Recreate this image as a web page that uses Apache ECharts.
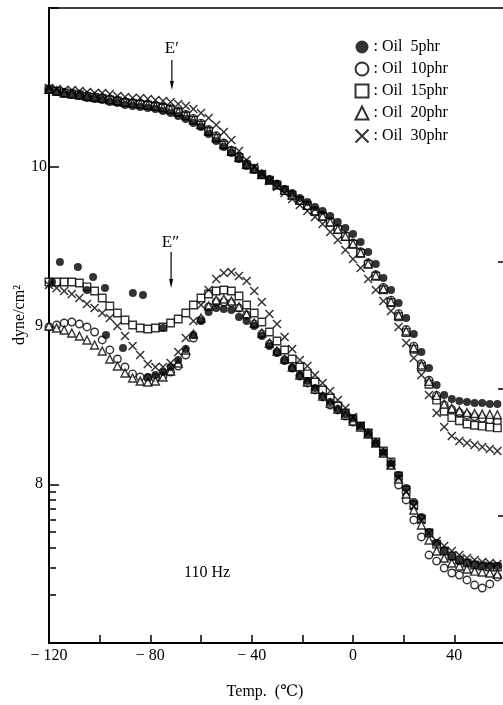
<!DOCTYPE html>
<html><head><meta charset="utf-8">
<script src="https://cdn.jsdelivr.net/npm/echarts@6/dist/echarts.min.js"></script>
<style>html,body{margin:0;padding:0;background:#fff;overflow:hidden}#c{width:508px;height:705px}</style>
</head><body><div id="c"></div>
<script>
// Temperatures (°C) at which values were read
const temps = [-120,-117,-114,-111,-108,-105,-102,-99,-96,-93,-90,-87,-84,-81,-78,-75,-72,-69,-66,-63,-60,-57,-54,-51,-48,-45,-42,-39,-36,-33,-30,-27,-24,-21,-18,-15,-12,-9,-6,-3,0,3,6,9,12,15,18,21,24,27,30,33,36,39,42,45,48,51,54,57];

// log10 of E' (dyne/cm2)
const storage5  = [10.483,10.471,10.458,10.452,10.446,10.433,10.427,10.420,10.408,10.402,10.389,10.383,10.376,10.370,10.364,10.351,10.339,10.320,10.301,10.276,10.250,10.206,10.162,10.124,10.087,10.049,10.005,9.980,9.948,9.917,9.891,9.860,9.835,9.803,9.778,9.746,9.721,9.690,9.652,9.614,9.576,9.526,9.463,9.387,9.299,9.224,9.142,9.047,8.946,8.833,8.732,8.625,8.562,8.537,8.524,8.518,8.512,8.512,8.506,8.506];
const storage10 = [10.490,10.478,10.468,10.462,10.455,10.446,10.440,10.434,10.425,10.418,10.410,10.404,10.398,10.392,10.385,10.376,10.365,10.350,10.330,10.305,10.275,10.235,10.195,10.150,10.105,10.065,10.020,9.990,9.955,9.920,9.890,9.855,9.825,9.790,9.760,9.725,9.695,9.655,9.610,9.565,9.520,9.465,9.395,9.320,9.240,9.160,9.075,8.975,8.870,8.760,8.655,8.560,8.500,8.470,8.450,8.435,8.425,8.415,8.405,8.395];
const storage15 = [10.486,10.475,10.465,10.458,10.452,10.443,10.437,10.430,10.421,10.414,10.405,10.399,10.393,10.387,10.380,10.370,10.358,10.342,10.320,10.292,10.262,10.222,10.180,10.137,10.095,10.057,10.012,9.985,9.950,9.915,9.885,9.852,9.820,9.787,9.755,9.720,9.688,9.650,9.605,9.560,9.512,9.455,9.385,9.310,9.225,9.145,9.055,8.955,8.850,8.740,8.630,8.530,8.460,8.420,8.400,8.380,8.372,8.366,8.360,8.355];
const storage20 = [10.489,10.477,10.466,10.460,10.453,10.445,10.438,10.432,10.423,10.416,10.408,10.401,10.395,10.389,10.382,10.373,10.362,10.346,10.325,10.298,10.268,10.228,10.188,10.143,10.100,10.060,10.016,9.988,9.952,9.918,9.887,9.853,9.822,9.788,9.757,9.722,9.690,9.652,9.607,9.562,9.515,9.458,9.390,9.315,9.232,9.150,9.065,8.965,8.860,8.752,8.648,8.560,8.505,8.478,8.462,8.452,8.446,8.442,8.440,8.438];
const storage30 = [10.496,10.490,10.483,10.483,10.477,10.471,10.465,10.465,10.458,10.446,10.439,10.433,10.433,10.427,10.420,10.414,10.408,10.395,10.383,10.364,10.339,10.307,10.263,10.219,10.169,10.099,10.043,9.998,9.954,9.910,9.872,9.835,9.797,9.759,9.721,9.683,9.639,9.589,9.539,9.476,9.419,9.362,9.293,9.224,9.154,9.091,8.991,8.890,8.795,8.688,8.562,8.449,8.361,8.304,8.272,8.260,8.247,8.235,8.222,8.209];

// log10 of E'' (dyne/cm2)
const loss5  = [null,null,null,null,null,null,null,null,null,null,null,null,null,8.676,8.688,8.707,8.739,8.783,8.852,8.940,9.028,9.085,9.110,9.104,9.098,9.054,9.028,8.997,8.934,8.871,8.827,8.776,8.732,8.688,8.650,8.606,8.556,8.518,8.474,8.442,8.417,8.367,8.317,8.260,8.203,8.134,8.058,7.976,7.888,7.794,7.699,7.630,7.580,7.542,7.516,7.504,7.491,7.485,7.485,7.485];
const loss5Scatter = [[-118.8,9.274],[-115.7,9.400],[-108.6,9.369],[-105.0,9.224],[-102.6,9.306],[-97.9,9.236],[-97.5,8.940],[-90.8,8.858],[-86.9,9.205],[-82.9,9.192],[-75.0,8.984]];
const loss10 = [8.991,9.003,9.016,9.022,9.009,8.991,8.959,8.909,8.846,8.789,8.739,8.695,8.676,8.669,8.669,8.682,8.707,8.745,8.814,8.921,9.035,9.117,9.148,9.148,9.142,9.110,9.066,9.009,8.946,8.883,8.833,8.783,8.732,8.682,8.638,8.594,8.550,8.499,8.468,8.430,8.392,8.361,8.323,8.260,8.197,8.121,7.995,7.901,7.775,7.668,7.554,7.516,7.472,7.441,7.428,7.397,7.365,7.346,7.372,7.416];
const loss15 = [9.274,9.274,9.274,9.274,9.268,9.243,9.217,9.173,9.123,9.079,9.035,9.003,8.984,8.978,8.984,8.991,9.016,9.041,9.079,9.129,9.173,9.198,9.217,9.224,9.217,9.186,9.129,9.079,9.022,8.959,8.902,8.846,8.789,8.739,8.695,8.644,8.594,8.543,8.493,8.449,8.411,8.367,8.323,8.266,8.209,8.140,8.052,7.964,7.869,7.781,7.693,7.623,7.580,7.548,7.523,7.504,7.491,7.485,7.479,7.479];
const loss20 = [8.997,8.984,8.972,8.953,8.934,8.909,8.877,8.839,8.789,8.745,8.701,8.669,8.650,8.644,8.650,8.676,8.713,8.764,8.846,8.946,9.047,9.123,9.161,9.167,9.154,9.117,9.072,9.016,8.953,8.890,8.839,8.789,8.739,8.688,8.644,8.600,8.556,8.512,8.474,8.436,8.398,8.361,8.317,8.260,8.197,8.121,8.033,7.939,7.838,7.743,7.649,7.580,7.535,7.504,7.485,7.466,7.453,7.447,7.441,7.435];
const loss30 = [9.255,9.236,9.217,9.198,9.173,9.135,9.110,9.079,9.047,8.997,8.934,8.871,8.814,8.758,8.739,8.739,8.764,8.833,8.921,9.028,9.129,9.224,9.293,9.331,9.337,9.312,9.280,9.217,9.148,9.072,9.009,8.927,8.852,8.783,8.745,8.688,8.638,8.587,8.531,8.480,8.424,8.367,8.323,8.260,8.197,8.121,8.039,7.951,7.863,7.775,7.693,7.643,7.611,7.580,7.554,7.535,7.523,7.510,7.504,7.498];

const seriesNames = ['Oil 5phr','Oil 10phr','Oil 15phr','Oil 20phr','Oil 30phr'];
const xTickLabels = [-120,-80,-40,0,40];
const yTickLabels = [8,9,10];

const FONT = '"Liberation Serif","DejaVu Serif",serif';
const open = {color:'#fff', borderColor:'#000', borderWidth:1.4};
const styles = {
  'Oil 5phr':  {symbol:'circle', symbolSize:8, itemStyle:{color:'#000'}},
  'Oil 10phr': {symbol:'circle', symbolSize:7.5, itemStyle:open},
  'Oil 15phr': {symbol:'rect', symbolSize:7.5, itemStyle:open},
  'Oil 20phr': {symbol:'triangle', symbolSize:8, itemStyle:open},
  'Oil 30phr': {symbol:'path://M0,0L10,10M10,0L0,10', symbolSize:8, itemStyle:{color:'none', borderColor:'#000', borderWidth:1.5}}
};
function pts(vals){ return temps.map((t,i)=> vals[i]==null ? null : [t, vals[i]]).filter(p=>p); }
function mk(name, data){
  const s = styles[name];
  return {type:'scatter', name, data, symbol:s.symbol, symbolSize:s.symbolSize, itemStyle:s.itemStyle, silent:true, animation:false};
}
const series = [
  mk('Oil 10phr', pts(storage10)), mk('Oil 10phr', pts(loss10)),
  mk('Oil 15phr', pts(storage15)), mk('Oil 15phr', pts(loss15)),
  mk('Oil 20phr', pts(storage20)), mk('Oil 20phr', pts(loss20)),
  mk('Oil 5phr', pts(storage5)), mk('Oil 5phr', pts(loss5)), mk('Oil 5phr', loss5Scatter),
  mk('Oil 30phr', pts(storage30)), mk('Oil 30phr', pts(loss30))
];

const chart = echarts.init(document.getElementById('c'), null, {renderer:'canvas'});
chart.setOption({
  animation:false,
  backgroundColor:'#fff',
  grid:{left:49, top:8, width:456, height:635, show:true, borderColor:'#000', borderWidth:1.5},
  legend:{
    data:seriesNames, orient:'vertical', left:353, top:39, padding:0, itemWidth:13, itemHeight:13, itemGap:6,
    selectedMode:false,
    textStyle:{fontFamily:FONT, fontSize:16, color:'#000'},
    formatter: n => ': Oil  ' + n.slice(4)
  },
  xAxis:{
    type:'value', min:-120, max:60, interval:20,
    axisLine:{onZero:false, lineStyle:{color:'#000', width:2}},
    axisTick:{inside:true, length:8, lineStyle:{color:'#000', width:1.5}},
    axisLabel:{
      color:'#000', fontFamily:FONT, fontSize:16, margin:5, showMinLabel:true,
      formatter: v => xTickLabels.includes(v) ? (v < 0 ? '− ' + (-v) : String(v)) : ''
    },
    splitLine:{show:false}
  },
  yAxis:[
    {type:'value', min:7, max:11, interval:1, position:'left',
     axisLine:{onZero:false, lineStyle:{color:'#000', width:2}},
     axisTick:{inside:true, length:10, lineStyle:{color:'#000', width:1.5}},
     axisLabel:{color:'#000', fontFamily:FONT, fontSize:16, margin:10, align:'center',
       formatter: v => yTickLabels.includes(v) ? String(v) : ''},
     splitLine:{show:false}},
    {type:'value', min:7, max:11, position:'left',
     axisLine:{show:false, onZero:false}, axisLabel:{show:false}, splitLine:{show:false},
     axisTick:{inside:true, length:7, lineStyle:{color:'#000', width:1.5},
       customValues:[2,3,4,5,6,7,8,9].map(k => Math.log10(k*1e7))}},
    {type:'value', min:0, max:5, position:'right',
     axisLine:{show:true, onZero:false, lineStyle:{color:'#000', width:2}}, axisLabel:{show:false}, splitLine:{show:false},
     axisTick:{inside:true, length:7, lineStyle:{color:'#000', width:1.5}, customValues:[1,2,3]}}
  ],
  series
});

const c = (t,v) => chart.convertToPixel({xAxisIndex:0, yAxisIndex:0}, [t,v]);
function arrow(t, vTop, vEnd){
  const a = c(t, vTop), b = c(t, vEnd);
  return [
    {type:'line', shape:{x1:a[0], y1:a[1], x2:b[0], y2:b[1]-6}, style:{stroke:'#000', lineWidth:1.2}},
    {type:'polygon', shape:{points:[[b[0]-2,b[1]-9],[b[0]+2,b[1]-9],[b[0],b[1]]]}, style:{fill:'#000'}}
  ];
}
const eP = c(-71.5, 10.745), eS = c(-72, 9.52), hz = c(-57.6, 7.441);
chart.setOption({graphic:[
  {type:'text', x:eP[0], y:eP[1], style:{text:'E′', fontFamily:FONT, fontSize:17, fill:'#000', align:'center', verticalAlign:'middle'}},
  ...arrow(-71.5, 10.672, 10.483),
  {type:'text', x:eS[0], y:eS[1], style:{text:'E″', fontFamily:FONT, fontSize:17, fill:'#000', align:'center', verticalAlign:'middle'}},
  ...arrow(-71.8, 9.463, 9.236),
  {type:'text', x:hz[0], y:hz[1], style:{text:'110 Hz', fontFamily:FONT, fontSize:16, fill:'#000', align:'center', verticalAlign:'middle'}},
  {type:'text', x:20, y:315, rotation:Math.PI/2, style:{text:'dyne/cm²', fontFamily:FONT, fontSize:16, fill:'#000', align:'center', verticalAlign:'middle'}},
  {type:'text', x:265, y:692, style:{text:'Temp.  (℃)', fontFamily:FONT, fontSize:16, fill:'#000', align:'center', verticalAlign:'middle'}}
]});
</script>
</body></html>
